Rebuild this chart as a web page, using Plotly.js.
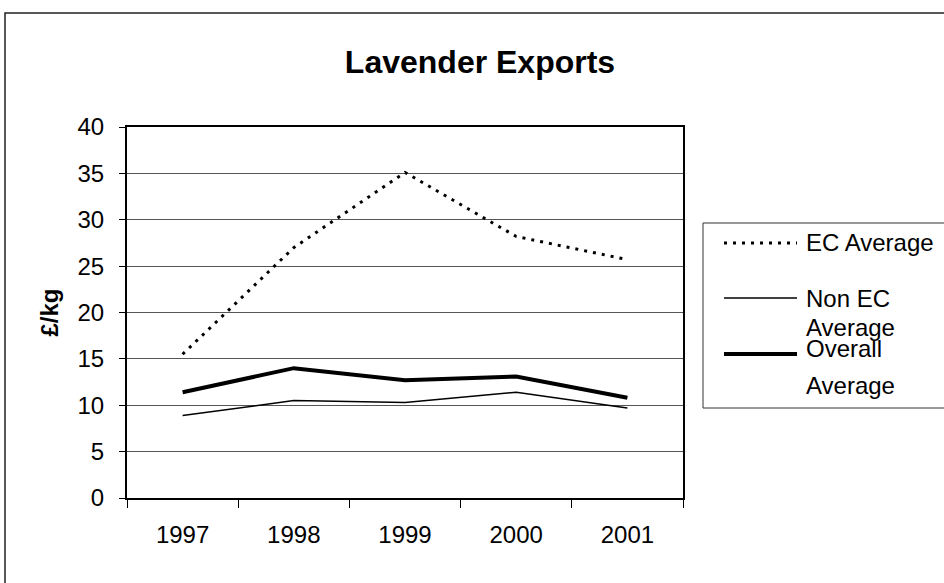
<!DOCTYPE html>
<html>
<head>
<meta charset="utf-8">
<script src="https://cdn.plot.ly/plotly-3.0.1.min.js"></script>
<style>
html,body{margin:0;padding:0;background:#fff;}
#chart{width:944px;height:583px;}
</style>
</head>
<body>
<div id="chart"></div>
<script>
// ---- data ----
const years = ['1997', '1998', '1999', '2000', '2001'];
const ecAverage = [15.5, 27.0, 35.1, 28.2, 25.7];
const nonEcAverage = [8.9, 10.5, 10.3, 11.4, 9.7];
const overallAverage = [11.4, 14.0, 12.7, 13.1, 10.8];
const seriesNames = ['EC Average', 'Non EC Average', 'Overall Average'];
const legendLines = [['EC Average'], ['Non EC', 'Average'], ['Overall', 'Average']];
const chartTitle = 'Lavender Exports';
const yTitle = '£/kg';

// ---- layout geometry (pixels) ----
const W = 944, H = 583;
const M = {l: 127, r: 261, t: 127, b: 85};
const PW = W - M.l - M.r, PH = H - M.t - M.b;
const px = x => (x - M.l) / PW;
const py = y => 1 - (y - M.t) / PH;
const FONT = 'Liberation Sans, Arial, Helvetica, sans-serif';

const styles = [
  {color: '#000', width: 3, dash: '3px,6px'},
  {color: '#000', width: 1.5, dash: 'solid'},
  {color: '#000', width: 4, dash: 'solid'}
];
const seriesValues = [ecAverage, nonEcAverage, overallAverage];

const traces = seriesValues.map((vals, i) => ({
  type: 'scatter', mode: 'lines', x: years, y: vals, name: seriesNames[i],
  line: styles[i], showlegend: false, hoverinfo: 'x+y+name'
}));

// manual legend
const legendSampleY = [243, 298, 354];
const legendTextY = [[242], [298, 327], [348, 385]];
const shapes = [
  // outer chart frame
  {type: 'rect', xref: 'paper', yref: 'paper', x0: px(5), x1: px(1000), y0: py(700), y1: py(13),
   line: {color: '#222', width: 1.5}, fillcolor: 'rgba(0,0,0,0)', layer: 'below'},
  // legend box
  {type: 'rect', xref: 'paper', yref: 'paper', x0: px(703), x1: px(1000), y0: py(408), y1: py(223),
   line: {color: '#333', width: 1}, fillcolor: 'rgba(0,0,0,0)'}
];
const annotations = [];
styles.forEach((s, i) => {
  shapes.push({type: 'line', xref: 'paper', yref: 'paper', x0: px(724), x1: px(797),
    y0: py(legendSampleY[i]), y1: py(legendSampleY[i]), line: {color: s.color, width: s.width, dash: s.dash}});
  legendLines[i].forEach((t, j) => {
    annotations.push({xref: 'paper', yref: 'paper', x: px(804), y: py(legendTextY[i][j]),
      xanchor: 'left', yanchor: 'middle', text: t, showarrow: false,
      font: {family: FONT, size: 24, color: '#000'}});
  });
});

const layout = {
  width: W, height: H,
  margin: M,
  paper_bgcolor: '#fff', plot_bgcolor: '#fff',
  font: {family: FONT, size: 24, color: '#000'},
  title: {text: '<b>' + chartTitle + '</b>', font: {family: FONT, size: 32, color: '#000'},
    xref: 'container', yref: 'container', x: 480 / W, y: 1 - 62 / H, xanchor: 'center', yanchor: 'middle'},
  xaxis: {
    type: 'category', range: [-0.5, 4.5], tickson: 'boundaries', ticks: 'outside', ticklen: 8,
    tickcolor: '#000', tickwidth: 1, showgrid: false, showline: true, linecolor: '#000', linewidth: 2,
    mirror: true, zeroline: false, tickfont: {family: FONT, size: 24, color: '#000'}, ticklabelstandoff: 14
  },
  yaxis: {
    range: [0, 40], dtick: 5, tick0: 0, ticks: 'outside', ticklen: 6, tickcolor: '#000', tickwidth: 1,
    showgrid: true, gridcolor: '#555', gridwidth: 1, showline: true, linecolor: '#000', linewidth: 2,
    mirror: true, zeroline: false, tickfont: {family: FONT, size: 24, color: '#000'}, ticklabelstandoff: 10,
    title: {text: '<b>' + yTitle + '</b>', font: {family: FONT, size: 24, color: '#000'}, standoff: 12}
  },
  shapes: shapes,
  annotations: annotations,
  showlegend: false
};

Plotly.newPlot('chart', traces, layout, {displayModeBar: false, staticPlot: true});
</script>
</body>
</html>
